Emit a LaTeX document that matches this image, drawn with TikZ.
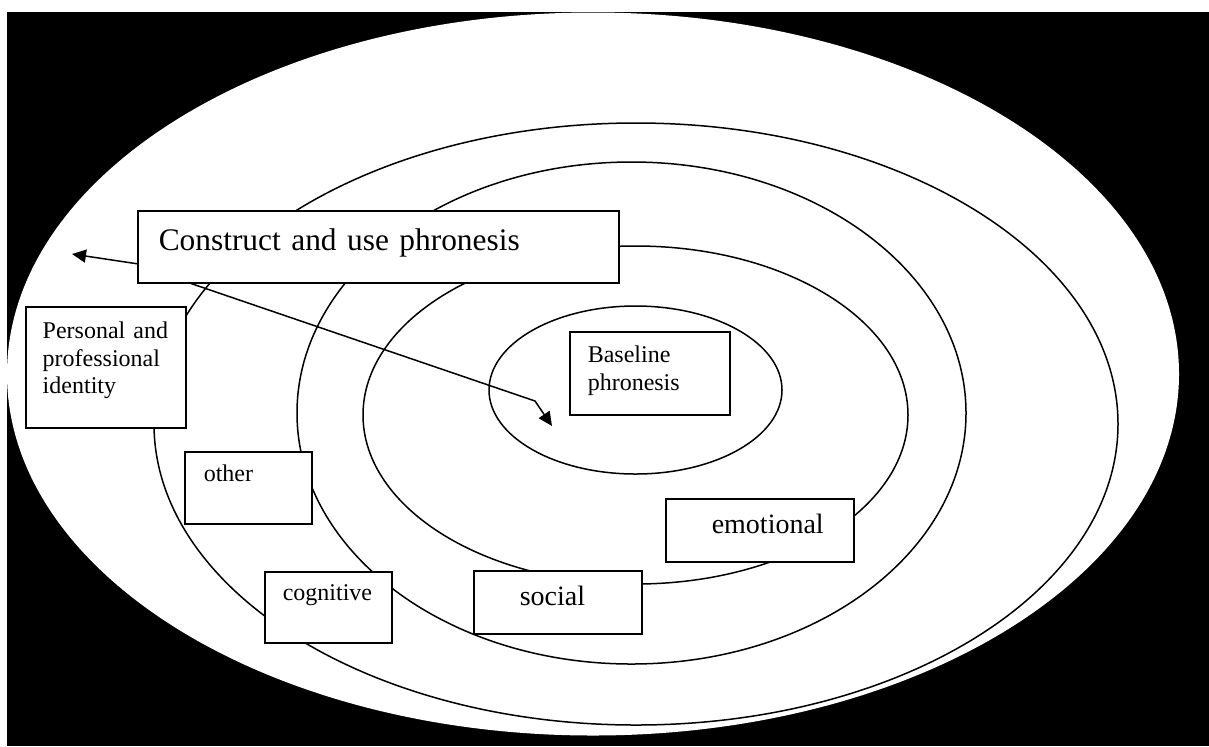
\documentclass[tikz,border=0pt]{standalone}
\usepackage{fontspec}
\setmainfont{Liberation Serif}
\usepackage{tikz}
\usetikzlibrary{arrows.meta}
\hyphenpenalty=10000
\tikzset{>={Triangle[length=7pt,width=6.5pt]}}
\tikzset{
  ring/.style={line width=0.75pt},
  box/.style={draw, fill=white, line width=0.75pt, anchor=north west, align=left, inner ysep=0pt},
  small/.style={font=\fontsize{12}{13.8}\selectfont},
  medium/.style={font=\fontsize{14}{16}\selectfont},
  large/.style={font=\fontsize{15.7}{18}\selectfont}
}

\begin{document}
\begin{tikzpicture}[x=0.5pt,y=-0.5pt]

\useasboundingbox (0,0) rectangle (1209,746);

% background:
\fill[black] (7,12) rectangle (1209,746);
\fill[white] (593,374) ellipse [x radius=586, y radius=361.5];

% rings:
\draw[ring] (636,424) ellipse [x radius=482, y radius=301];
\draw[ring] (631.5,413) ellipse [x radius=334.5, y radius=251];
\draw[ring] (635.5,415) ellipse [x radius=272.5, y radius=169];
\draw[ring] (635.5,390) ellipse [x radius=146.5, y radius=84];

% boxes:
\node[box, large, inner xsep=10.5pt, text width=219.5pt, text height=20pt, text depth=16pt] (construct) at (137,210) {Construct and use phronesis};
\node[box, small, inner xsep=8.5pt, text width=63pt, text height=16pt, text depth=44.5pt] (identity) at (25,306) {Personal and\\professional\\identity};
\node[box, small, inner xsep=9.5pt, text width=44.5pt, text height=15pt, text depth=21pt] (other) at (184,451) {other};
\node[box, small, inner xsep=9pt, text width=45.5pt, text height=14.5pt, text depth=21pt] (cognitive) at (264,571) {cognitive};
\node[box, medium, inner xsep=23pt, text width=38pt, text height=17.5pt, text depth=14pt] (social) at (473,570) {social};
\node[box, medium, inner xsep=23pt, text width=48pt, text height=17.5pt, text depth=14pt] (emotional) at (665,498) {emotional};
\node[box, small, inner xsep=9pt, text width=62pt, text height=15.5pt, text depth=26pt] (baseline) at (569,331) {Baseline\\phronesis};

% arrows:
\coordinate (leftTip) at (72,254);
\coordinate (bend) at (535,401);
\coordinate (innerTip) at (552,426);
\draw[ring,->] ([yshift=-8.5pt]construct.west) -- (leftTip);
\draw[ring,->] ([xshift=27pt]construct.south west) -- (bend) -- (innerTip);

\end{tikzpicture}
\end{document}
